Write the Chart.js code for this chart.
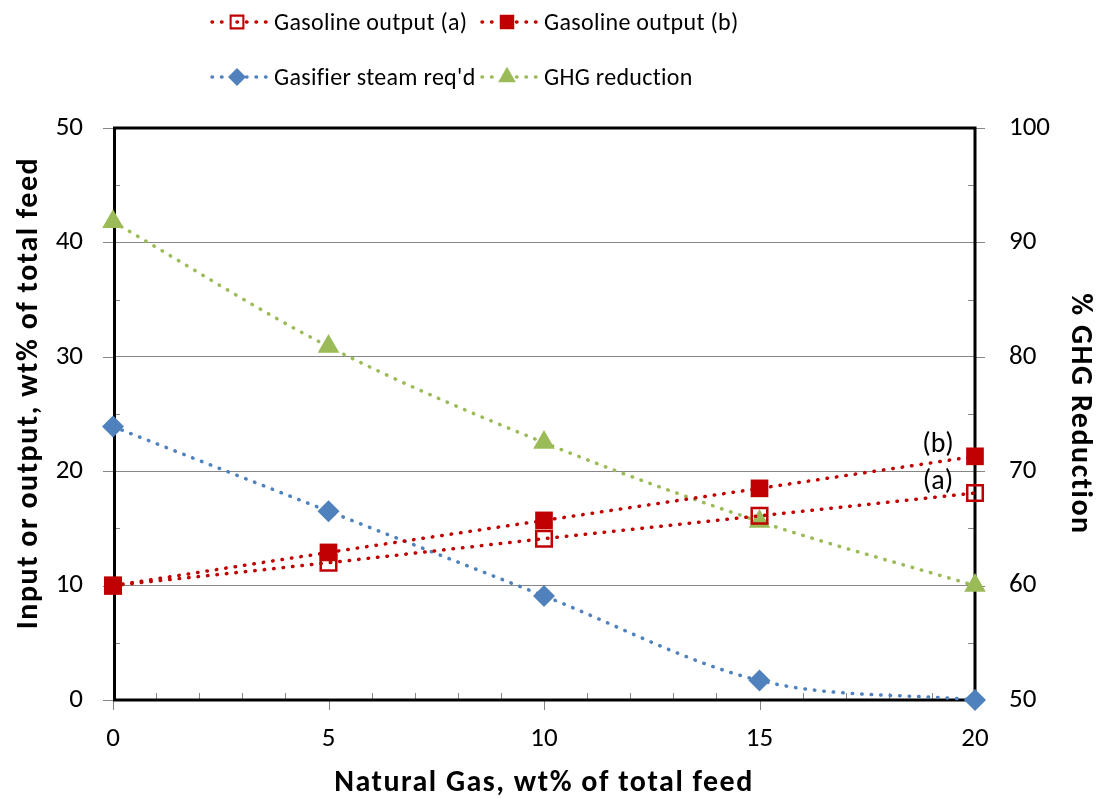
<!DOCTYPE html>
<html>
<head>
<meta charset="utf-8">
<script src="https://cdn.jsdelivr.net/npm/chart.js@4.4.0/dist/chart.umd.min.js"></script>
<style>
  html, body { margin: 0; padding: 0; background: #fff; }
  #wrap { width: 1097px; height: 798px; }
</style>
</head>
<body>
<div id="wrap"><canvas id="chart" width="1097" height="798"></canvas></div>
<script>
// values
const natGas = [0, 5, 10, 15, 20]
const gasolineA = [10.0, 12.0, 14.1, 16.1, 18.1]
const gasolineB = [10.0, 12.9, 15.7, 18.5, 21.3]
const steamReq = [23.9, 16.5, 9.1, 1.7, 0.0]
const ghgReduction = [91.8, 80.9, 72.5, 65.6, 60.0]

const seriesLabels = ['Gasoline output (a)', 'Gasoline output (b)', "Gasifier steam req'd", 'GHG reduction']
const endLabels = ['(a)', '(b)']
const xTitle = 'Natural Gas, wt% of total feed'
const yTitle = 'Input or output, wt% of total feed'
const y2Title = '% GHG Reduction'

const xTicks = [0, 5, 10, 15, 20]
const leftTicks = [0, 10, 20, 30, 40, 50]
const rightTicks = [50, 60, 70, 80, 90, 100]

const FONT = 'Carlito, Lato, sans-serif'
const RED = '#C00000'
const BLUE = '#4F81BD'
const GREEN = '#9BBB59'
const TICK_GRAY = '#868686'

Chart.defaults.font.family = FONT
Chart.defaults.color = '#000'

function toXY(xs, ys) {
    return xs.map((x, i) => ({x: x, y: ys[i]}))
}

function lineStyle(color) {
    return {
        borderColor: color,
        borderWidth: 3.5,
        borderDash: [0.5, 9],
        borderCapStyle: 'round',
        cubicInterpolationMode: 'monotone',
        clip: false,
        pointHoverRadius: 0,
    }
}

const datasets = [{
    label: seriesLabels[0],
    data: toXY(natGas, gasolineA),
    yAxisID: 'y',
    order: 2,
    ...lineStyle(RED),
    pointStyle: 'rect',
    pointRadius: 11,
    pointBorderWidth: 2.5,
    pointBorderColor: RED,
    pointBackgroundColor: 'rgba(255,255,255,0)',
},{
    label: seriesLabels[1],
    data: toXY(natGas, gasolineB),
    yAxisID: 'y',
    order: 1,
    ...lineStyle(RED),
    pointStyle: 'rect',
    pointRadius: 12.5,
    pointBorderWidth: 0,
    pointBorderColor: RED,
    pointBackgroundColor: RED,
},{
    label: seriesLabels[2],
    data: toXY(natGas, steamReq),
    yAxisID: 'y',
    order: 3,
    ...lineStyle(BLUE),
    pointStyle: 'rectRot',
    pointRadius: 11,
    pointBorderWidth: 0,
    pointBorderColor: BLUE,
    pointBackgroundColor: BLUE,
},{
    label: seriesLabels[3],
    data: toXY(natGas, ghgReduction),
    yAxisID: 'y2',
    order: 4,
    ...lineStyle(GREEN),
    pointStyle: 'triangle',
    pointRadius: 12.5,
    pointBorderWidth: 0,
    pointBorderColor: GREEN,
    pointBackgroundColor: GREEN,
}]

function drawMarker(ctx, ds, x, y, scale) {
    const r = ds.pointRadius * scale
    ctx.save()
    ctx.beginPath()
    if (ds.pointStyle === 'rect') {
        const s = r * Math.SQRT1_2
        ctx.rect(x - s, y - s, 2 * s, 2 * s)
    } else if (ds.pointStyle === 'rectRot') {
        ctx.moveTo(x, y - r)
        ctx.lineTo(x + r, y)
        ctx.lineTo(x, y + r)
        ctx.lineTo(x - r, y)
        ctx.closePath()
    } else {
        ctx.moveTo(x, y - r)
        ctx.lineTo(x + r * 0.866, y + r * 0.5)
        ctx.lineTo(x - r * 0.866, y + r * 0.5)
        ctx.closePath()
    }
    ctx.fillStyle = ds.pointBackgroundColor
    ctx.fill()
    if (ds.pointBorderWidth) {
        ctx.lineWidth = ds.pointBorderWidth * scale
        ctx.strokeStyle = ds.pointBorderColor
        ctx.stroke()
    }
    ctx.restore()
}

function drawText(ctx, txt, x, y, rot, font) {
    ctx.save()
    ctx.translate(x, y)
    ctx.rotate(rot)
    ctx.font = font
    ctx.letterSpacing = '1.5px'
    ctx.fillStyle = '#000'
    ctx.textAlign = 'center'
    ctx.textBaseline = 'alphabetic'
    ctx.fillText(txt, 0, 0)
    ctx.restore()
}

// frame, minor/major ticks, axis titles, legend and the (a)/(b) labels
const extras = {
    id: 'extras',
    beforeDatasetsDraw(chart) {
        const {ctx, chartArea: a, scales} = chart
        ctx.save()
        ctx.strokeStyle = TICK_GRAY
        ctx.lineWidth = 1
        ctx.beginPath()
        for (let v = 0; v <= 20; v++) {
            const px = Math.round(scales.x.getPixelForValue(v)) + 0.5
            if (v % 5 === 0) { ctx.moveTo(px, a.bottom); ctx.lineTo(px, a.bottom + 10) }
            else { ctx.moveTo(px, a.bottom); ctx.lineTo(px, a.bottom - 7) }
        }
        for (let v = 0; v <= 50; v += 5) {
            const py = Math.round(scales.y.getPixelForValue(v)) + 0.5
            if (v % 10 === 0) { ctx.moveTo(a.left - 10, py); ctx.lineTo(a.left, py) }
            else { ctx.moveTo(a.left, py); ctx.lineTo(a.left + 7, py) }
        }
        for (let v = 50; v <= 100; v += 5) {
            const py = Math.round(scales.y2.getPixelForValue(v)) + 0.5
            if (v % 10 === 0) { ctx.moveTo(a.right, py); ctx.lineTo(a.right + 10, py) }
            else { ctx.moveTo(a.right, py); ctx.lineTo(a.right - 7, py) }
        }
        ctx.stroke()
        ctx.strokeStyle = '#000'
        ctx.lineWidth = 3
        ctx.strokeRect(a.left + 1.5, a.top, a.right - a.left - 1.5, a.bottom - a.top)
        ctx.restore()

        const titleFont = 'bold 30px ' + FONT
        drawText(ctx, xTitle, (a.left + a.right) / 2, 791, 0, titleFont)
        drawText(ctx, yTitle, 37, 393, -Math.PI / 2, titleFont)
        drawText(ctx, y2Title, 1072, (a.top + a.bottom) / 2, Math.PI / 2, titleFont)
    },
    afterDraw(chart) {
        const ctx = chart.ctx
        const cols = [237, 507]
        const rows = [22, 77]
        ctx.save()
        chart.data.datasets.forEach((ds, i) => {
            const cx = cols[i % 2]
            const cy = rows[Math.floor(i / 2)]
            ctx.save()
            ctx.strokeStyle = ds.borderColor
            ctx.lineWidth = ds.borderWidth
            ctx.lineCap = 'round'
            ctx.setLineDash(ds.borderDash)
            ctx.beginPath()
            ctx.moveTo(cx - 15, cy)
            ctx.lineTo(cx - 31, cy)
            ctx.moveTo(cx, cy)
            ctx.lineTo(cx + 31, cy)
            ctx.stroke()
            ctx.restore()
            drawMarker(ctx, ds, cx, cy, 0.82)
            ctx.fillStyle = '#000'
            ctx.font = '24px ' + FONT
            ctx.letterSpacing = '0.3px'
            ctx.textAlign = 'left'
            ctx.textBaseline = 'middle'
            ctx.fillText(ds.label, cx + 37, cy + 2)
        })
        // end labels next to the last points of the gasoline series
        ctx.letterSpacing = '0px'
        ctx.font = '28px ' + FONT
        ctx.textAlign = 'center'
        ctx.textBaseline = 'middle'
        ctx.fillStyle = '#000'
        endLabels.forEach((txt, i) => {
            const pts = chart.getDatasetMeta(i).data
            const p = pts[pts.length - 1]
            ctx.fillText(txt, p.x - 37, p.y - 11)
        })
        ctx.restore()
    }
}

const config = {
    type: 'line',
    data: {datasets: datasets},
    options: {
        responsive: false,
        animation: false,
        events: [],
        layout: {padding: {top: 128, left: 0, right: 0, bottom: 0}},
        plugins: {
            legend: {display: false},
            tooltip: {enabled: false},
        },
        scales: {
            x: {
                type: 'linear',
                min: 0,
                max: 20,
                afterBuildTicks: s => { s.ticks = xTicks.map(v => ({value: v})) },
                afterFit: s => { s.height = 98 },
                grid: {display: false},
                border: {display: false},
                ticks: {font: {size: 27}, padding: 15, color: '#000'},
            },
            y: {
                position: 'left',
                min: 0,
                max: 50,
                afterBuildTicks: s => { s.ticks = leftTicks.map(v => ({value: v})) },
                afterFit: s => { s.width = 113 },
                grid: {color: TICK_GRAY, lineWidth: 1, drawTicks: false},
                border: {display: false},
                ticks: {font: {size: 27}, padding: 30, color: '#000'},
            },
            y2: {
                position: 'right',
                min: 50,
                max: 100,
                afterBuildTicks: s => { s.ticks = rightTicks.map(v => ({value: v})) },
                afterFit: s => { s.width = 122 },
                grid: {display: false, drawOnChartArea: false},
                border: {display: false},
                ticks: {font: {size: 27}, padding: 26, color: '#000'},
            },
        },
    },
    plugins: [extras],
}

const chart = new Chart(document.getElementById('chart'), config)
</script>
</body>
</html>
